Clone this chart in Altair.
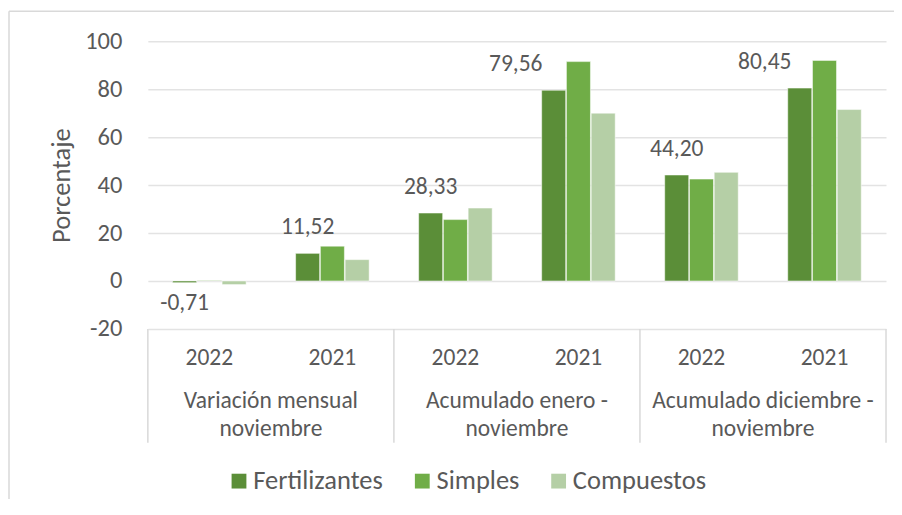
import altair as alt
import pandas as pd

# ---------------- data ----------------
groups = ["Variación mensual noviembre", "Acumulado enero - noviembre", "Acumulado diciembre - noviembre"]
group_labels = ["Variación mensual\nnoviembre", "Acumulado enero -\nnoviembre", "Acumulado diciembre -\nnoviembre"]
years = ["2022", "2021"]
series = ["Fertilizantes", "Simples", "Compuestos"]
fertilizantes = [-0.71, 11.52, 28.33, 79.56, 44.20, 80.45]
simples = [0.2, 14.5, 25.6, 91.5, 42.5, 92.0]
compuestos = [-1.5, 8.9, 30.4, 70.0, 45.3, 71.5]
y_ticks = [-20, 0, 20, 40, 60, 80, 100]

# ---------------- style ----------------
FONT = "Carlito, 'Open Sans'"
FS = 23.5
FS_AX = 24.5
FS_BIG = 26.5
TXT = "#595959"
GRID = "#e3e3e3"
colors = ["#5B8E38", "#70AD47", "#B5CFA6"]
W, H = 739, 288

cats = [f"{g}|{y}" for g in groups for y in years]
rows = []
for i, c in enumerate(cats):
    g, yr = c.split("|")
    for s, vals in zip(series, [fertilizantes, simples, compuestos]):
        rows.append({"cat": c, "group": g, "year": yr, "serie": s, "value": vals[i]})
df = pd.DataFrame(rows)
years_df = pd.DataFrame({"cat": cats, "year": [c.split("|")[1] for c in cats]})
groups_df = pd.DataFrame({"cat": [f"{g}|{years[0]}" for g in groups], "label": group_labels})
end_df = pd.DataFrame({"cat": [cats[-1]]})

x_scale = alt.Scale(domain=cats, paddingInner=0, paddingOuter=0)
X = alt.X("cat:N", scale=x_scale, axis=None)
y_scale = alt.Scale(domain=[-20, 100], nice=False, zero=False)
xoff = alt.XOffset("serie:N", scale=alt.Scale(domain=series, paddingInner=0.03, paddingOuter=1))

bars = alt.Chart(df).mark_bar(stroke="white", strokeWidth=0.5).encode(
    x=X,
    xOffset=xoff,
    y=alt.Y("value:Q", scale=y_scale,
            axis=alt.Axis(values=y_ticks, title="Porcentaje", grid=True, gridColor=GRID, gridWidth=1.5,
                          domain=False, ticks=False, labelFont=FONT, labelFontSize=FS_AX, labelColor=TXT,
                          labelPadding=26, labelExpr="datum.value + ''",
                          titleFont=FONT, titleFontSize=FS_BIG, titleColor=TXT, titleFontWeight="normal",
                          titlePadding=9)),
    color=alt.Color("serie:N", scale=alt.Scale(domain=series, range=colors),
                    legend=alt.Legend(orient="none", legendX=78, legendY=427, direction="horizontal",
                                      title=None, symbolType="square", symbolSize=220, symbolStrokeWidth=0,
                                      labelFont=FONT, labelFontSize=FS_BIG, labelColor=TXT, columnPadding=25.5,
                                      labelOffset=1, padding=0)),
)

label_expr = "(datum.value < 0 ? '-' : '') + replace(format(abs(datum.value), '.2f'), '.', ',')"
fert = alt.Chart(df).transform_filter(alt.datum.serie == "Fertilizantes").transform_calculate(lab=label_expr)

def lab_layer(filt, dx, dy):
    return fert.transform_filter(filt).mark_text(font=FONT, fontSize=FS, color=TXT, baseline="middle",
                                                 dx=dx, dy=dy).encode(
        x=X, xOffset=xoff, y=alt.Y("value:Q", scale=y_scale), text="lab:N")

neg = lab_layer(alt.datum.value < 0, 0, 20)
pos = lab_layer((alt.datum.value >= 0) & (alt.datum.year == "2022"), 0, -26)
pos_vm21 = lab_layer((alt.datum.group == groups[0]) & (alt.datum.year == "2021"), 0, -26)
pos_en21 = lab_layer((alt.datum.group == groups[1]) & (alt.datum.year == "2021"), -38, -26)
pos_dn21 = lab_layer((alt.datum.group == groups[2]) & (alt.datum.year == "2021"), -35, -26)

year_text = alt.Chart(years_df).mark_text(font=FONT, fontSize=FS, color=TXT, baseline="middle").encode(
    x=X, y=alt.value(317), text="year:N")
group_text = alt.Chart(groups_df).mark_text(font=FONT, fontSize=FS, color=TXT, baseline="middle",
                                            lineBreak="\n", lineHeight=28).encode(
    x=alt.X("cat:N", scale=x_scale, axis=None, bandPosition=1), y=alt.value(360), text="label:N")
seps = alt.Chart(groups_df).mark_rule(color="#d9d9d9", strokeWidth=1.5).encode(
    x=alt.X("cat:N", scale=x_scale, axis=None, bandPosition=0), y=alt.value(H), y2=alt.value(402))
sep_end = alt.Chart(end_df).mark_rule(color="#d9d9d9", strokeWidth=1.5).encode(
    x=alt.X("cat:N", scale=x_scale, axis=None, bandPosition=1), y=alt.value(H), y2=alt.value(402))

frame_left = alt.Chart(end_df).mark_rule(color="#d9d9d9", strokeWidth=1.5).encode(
    x=alt.value(-139), y=alt.value(-30), y2=alt.value(480))
frame_top = alt.Chart(end_df).mark_rule(color="#d9d9d9", strokeWidth=1.5).encode(
    x=alt.value(-139), x2=alt.value(770), y=alt.value(-30))

chart = alt.layer(
    frame_left, frame_top, bars, neg, pos, pos_vm21, pos_en21, pos_dn21, year_text, group_text, seps, sep_end
).properties(
    width=W, height=H,
    autosize=alt.AutoSizeParams(type="none"),
    padding={"left": 140, "top": 33, "right": 8, "bottom": 170},
).configure_view(stroke=None)

chart.save("out.html", embed_options={"renderer": "svg", "actions": False})
